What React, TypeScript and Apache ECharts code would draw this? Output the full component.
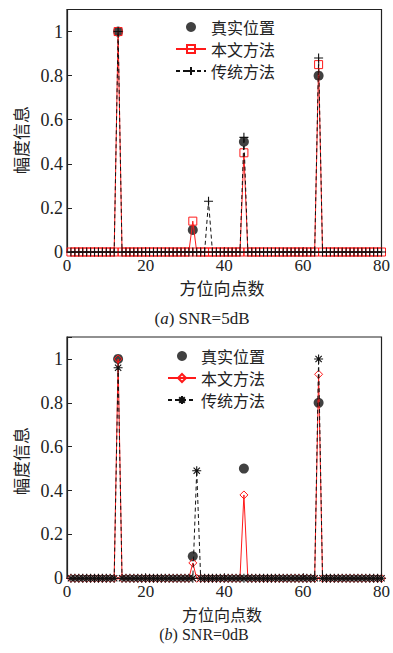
import React, { useEffect, useRef } from "react";
import * as echarts from "echarts";

// x positions are 1..80 (index + 1)
const realX = [13, 32, 45, 64];
const realA = [1, 0.1, 0.5, 0.8];
const realB = [1, 0.1, 0.5, 0.8];

const propA = [
  0, 0, 0, 0, 0, 0, 0, 0, 0, 0,
  0, 0, 1, 0, 0, 0, 0, 0, 0, 0,
  0, 0, 0, 0, 0, 0, 0, 0, 0, 0,
  0, 0.14, 0, 0, 0, 0, 0, 0, 0, 0,
  0, 0, 0, 0, 0.45, 0, 0, 0, 0, 0,
  0, 0, 0, 0, 0, 0, 0, 0, 0, 0,
  0, 0, 0, 0.85, 0, 0, 0, 0, 0, 0,
  0, 0, 0, 0, 0, 0, 0, 0, 0, 0,
];
const tradA = [
  0, 0, 0, 0, 0, 0, 0, 0, 0, 0,
  0, 0, 1, 0, 0, 0, 0, 0, 0, 0,
  0, 0, 0, 0, 0, 0, 0, 0, 0, 0,
  0, 0, 0, 0, 0, 0.23, 0, 0, 0, 0,
  0, 0, 0, 0, 0.52, 0, 0, 0, 0, 0,
  0, 0, 0, 0, 0, 0, 0, 0, 0, 0,
  0, 0, 0, 0.88, 0, 0, 0, 0, 0, 0,
  0, 0, 0, 0, 0, 0, 0, 0, 0, 0,
];
const propB = [
  0, 0, 0, 0, 0, 0, 0, 0, 0, 0,
  0, 0, 1, 0, 0, 0, 0, 0, 0, 0,
  0, 0, 0, 0, 0, 0, 0, 0, 0, 0,
  0, 0.07, 0, 0, 0, 0, 0, 0, 0, 0,
  0, 0, 0, 0, 0.38, 0, 0, 0, 0, 0,
  0, 0, 0, 0, 0, 0, 0, 0, 0, 0,
  0, 0, 0, 0.93, 0, 0, 0, 0, 0, 0,
  0, 0, 0, 0, 0, 0, 0, 0, 0, 0,
];
const tradB = [
  0, 0, 0, 0, 0, 0, 0, 0, 0, 0,
  0, 0, 0.96, 0, 0, 0, 0, 0, 0, 0,
  0, 0, 0, 0, 0, 0, 0, 0, 0, 0,
  0, 0, 0.49, 0, 0, 0, 0, 0, 0, 0,
  0, 0, 0, 0, 0, 0, 0, 0, 0, 0,
  0, 0, 0, 0, 0, 0, 0, 0, 0, 0,
  0, 0, 0, 1.0, 0, 0, 0, 0, 0, 0,
  0, 0, 0, 0, 0, 0, 0, 0, 0, 0,
];

const legendNames = ["真实位置", "本文方法", "传统方法"];
const xTitle = "方位向点数";
const yTitle = "幅度信息";

const PLUS = "path://M5,0L5,10M0,5L10,5";
const STAR = "path://M5,0L5,10M0,5L10,5M1.5,1.5L8.5,8.5M1.5,8.5L8.5,1.5";

const SERIF = "Liberation Serif";
const CJK = "Noto Sans CJK SC";
const TXT = "#222";
const RED = "#ff1a1a";
const BLK = "#111";

function toPairs(arr: number[]) {
  return arr.map((v, i) => [i + 1, v]);
}

export default function App() {
  const ref = useRef<HTMLDivElement>(null);
  useEffect(() => {
    if (!ref.current) return;
    const chart = echarts.init(ref.current, null, { renderer: "svg" });
    const axisX = (gi: number) => ({
      type: "value",
      gridIndex: gi,
      min: 0,
      max: 80,
      interval: 20,
      axisLine: { show: true, onZero: false, lineStyle: { color: TXT, width: 1.2 } },
      axisTick: { show: true, inside: true, length: 5, lineStyle: { color: TXT } },
      axisLabel: { margin: 5, fontFamily: SERIF, fontSize: 17, color: TXT },
      splitLine: { show: false },
    });
    const axisY = (gi: number) => ({
      type: "value",
      gridIndex: gi,
      min: 0,
      max: 1.1,
      interval: 0.2,
      axisLine: { show: true, lineStyle: { color: TXT, width: 1.2 } },
      axisTick: { show: true, inside: true, length: 5, lineStyle: { color: TXT } },
      axisLabel: {
        margin: 4,
        fontFamily: SERIF,
        fontSize: 18,
        color: TXT,
        formatter: (v: number) => (v > 1.05 ? "" : String(Math.round(v * 10) / 10)),
      },
      splitLine: { show: false },
    });
    const legend = (top: number, left: number, lh: number, gi: string, iw: number) => ({
      orient: "vertical",
      left,
      top,
      itemGap: 0,
      itemWidth: iw,
      itemHeight: 10,
      data: legendNames.map((n) => gi + ":" + n),
      formatter: (name: string) => name.split(":")[1],
      textStyle: { fontFamily: CJK, fontSize: 16, color: TXT, lineHeight: lh },
    });
    const mkSeries = (
      gi: number,
      prefix: string,
      real: number[],
      prop: number[],
      trad: number[],
      propSym: string,
      tradSym: string
    ) => [
      {
        name: prefix + ":" + legendNames[0],
        type: "scatter",
        xAxisIndex: gi,
        yAxisIndex: gi,
        data: realX.map((x, i) => [x, real[i]]),
        symbol: "circle",
        symbolSize: 10,
        itemStyle: { color: BLK },
        clip: false,
        z: 2,
      },
      {
        name: prefix + ":" + legendNames[1],
        type: "line",
        xAxisIndex: gi,
        yAxisIndex: gi,
        data: toPairs(prop),
        symbol: propSym,
        symbolSize: 8,
        showAllSymbol: true,
        clip: false,
        lineStyle: { color: RED, width: 1 },
        itemStyle: { color: "rgba(0,0,0,0)", borderColor: RED, borderWidth: 1 },
        z: 3,
      },
      {
        name: prefix + ":" + legendNames[2],
        type: "line",
        xAxisIndex: gi,
        yAxisIndex: gi,
        data: toPairs(trad),
        symbol: tradSym,
        symbolSize: 9,
        showAllSymbol: true,
        clip: false,
        lineStyle: { color: BLK, width: 1, type: [4, 3] },
        itemStyle: { color: "rgba(0,0,0,0)", borderColor: BLK, borderWidth: 1.1 },
        z: 4,
      },
    ];
    const caption = (x: number, y: number, letter: string, rest: string, fs: number) => ({
      type: "text",
      x,
      y,
      style: {
        text: "(" + "{i|" + letter + "}" + ") " + rest,
        fontFamily: SERIF,
        fontSize: fs,
        lineHeight: fs,
        fill: TXT,
        align: "center",
        verticalAlign: "middle",
        rich: {
          i: { fontFamily: SERIF, fontSize: fs, lineHeight: fs, fontStyle: "italic", fill: TXT },
        },
      },
    });
    const cjkText = (x: number, y: number, text: string, fs: number, rot = 0) => ({
      type: "text",
      x,
      y,
      rotation: rot,
      style: {
        text,
        fontFamily: CJK,
        fontSize: fs,
        lineHeight: fs,
        fill: TXT,
        align: "center",
        verticalAlign: "middle",
      },
    });
    chart.setOption({
      animation: false,
      grid: [
        { left: 67, right: 7, top: 9.5, height: 242.5, show: true, borderColor: TXT, borderWidth: 1.2 },
        { left: 67, right: 8, top: 337, height: 241.3, show: true, borderColor: TXT, borderWidth: 1.2 },
      ],
      xAxis: [axisX(0), axisX(1)],
      yAxis: [axisY(0), axisY(1)],
      legend: [legend(11, 170, 22, "a", 30), legend(340, 162, 22, "b", 28)],
      series: [
        ...mkSeries(0, "a", realA, propA, tradA, "rect", PLUS),
        ...mkSeries(1, "b", realB, propB, tradB, "diamond", STAR),
      ],
      graphic: [
        cjkText(20, 140, yTitle, 17, Math.PI / 2),
        cjkText(20, 461, yTitle, 17, Math.PI / 2),
        cjkText(222, 287, xTitle, 17),
        cjkText(222, 614, xTitle, 16),
        caption(202, 318, "a", "SNR=5dB", 17),
        caption(204, 634, "b", "SNR=0dB", 16),
      ],
    });
    return () => chart.dispose();
  }, []);
  return (
    <div
      ref={ref}
      style={{ position: "absolute", left: 0, top: 0, width: 393, height: 653 }}
    />
  );
}
